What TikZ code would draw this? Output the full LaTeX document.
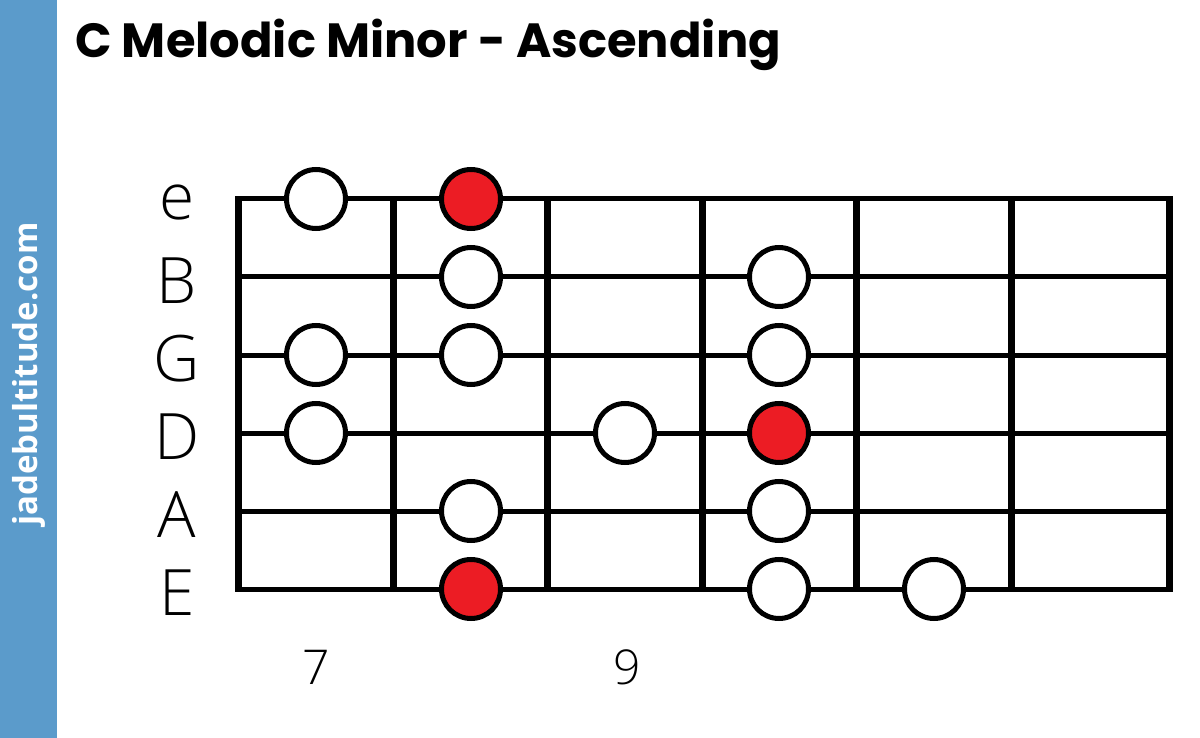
\documentclass[tikz,border=0pt]{standalone}
\usepackage{fontspec}
\setmainfont{Open Sans}
\newfontfamily\titlefont{Poppins}
\newfontfamily\labfont{Open Sans Light}
\definecolor{sidebar}{HTML}{5B9BCB}
\definecolor{rootred}{HTML}{EC1C24}
\tikzset{
  stringline/.style={line width=5pt},
  fretline/.style={line width=7pt},
  note/.style={circle,draw=black,line width=5pt,fill=white,minimum size=59pt,inner sep=0pt},
  root/.style={note,fill=rootred},
  strlabel/.style={font=\labfont\fontsize{64}{64}\selectfont,anchor=center},
  fretnum/.style={font=\labfont\fontsize{48}{48}\selectfont,anchor=base},
}
\begin{document}
\begin{tikzpicture}[x=1pt,y=-1pt]
\useasboundingbox (0,0) rectangle (1200,738);
\fill[white] (0,0) rectangle (1200,738);
\fill[sidebar] (0,0) rectangle (57,738);
\node[rotate=90,text=white,font=\bfseries\fontsize{33}{33}\selectfont] (site) at (29,374) {jadebultitude.com};
\node[anchor=base west,inner sep=0pt,font=\titlefont\bfseries\fontsize{48}{48}\selectfont] (title) at (75,58) {C Melodic Minor - Ascending};
% strings
\foreach \y/\n in {199/e,277/B,355/G,433/D,511/A,589/E}{
  \draw[stringline] (238,\y) -- (1169,\y);
  \node[strlabel] (lab\n) at (177,\y+4) {\n};
}
% frets
\foreach \x in {238,393,547,702,856,1011,1169}{
  \draw[fretline] (\x,196.5) -- (\x,591.5);
}
% notes
\foreach \x/\y/\s/\nm in {
  316/199/note/n1, 471/199/root/n2,
  471/277/note/n3, 779/277/note/n4,
  316/355/note/n5, 471/355/note/n6, 779/355/note/n7,
  316/433/note/n8, 625/433/note/n9, 779/433/root/n10,
  471/511/note/n11, 779/511/note/n12,
  471/589/root/n13, 779/589/note/n14, 934/589/note/n15}{
  \node[\s] (\nm) at (\x,\y) {};
}
\node[fretnum] (f7) at (316,684) {7};
\node[fretnum] (f9) at (627,684) {9};
\end{tikzpicture}
\end{document}
